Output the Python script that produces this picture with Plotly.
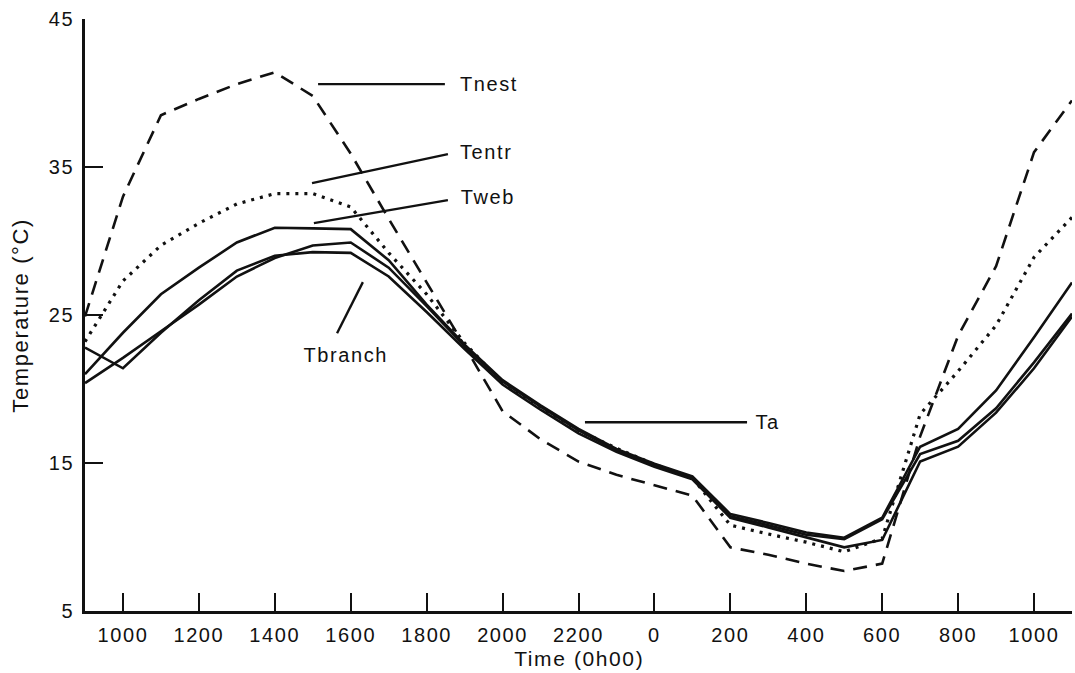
import plotly.graph_objects as go

# ---- data (hourly readings, 0900 day 1 to 1100 day 2; hour 24 = midnight) ----
hours = list(range(9, 36))

t_nest = [24.9, 33.0, 38.5, 39.6, 40.6, 41.4, 39.8, 35.9, 31.5, 27.2, 22.9, 18.5, 16.6,
          15.1, 14.2, 13.5, 12.8, 9.3, 8.8, 8.2, 7.7, 8.2, 16.8, 23.6, 28.3, 36.0, 39.5]
t_entr = [23.2, 27.3, 29.7, 31.2, 32.5, 33.2, 33.2, 32.3, 29.2, 26.4, 23.1, 20.4, 18.8,
          17.2, 16.0, 14.9, 14.0, 10.8, 10.2, 9.65, 9.0, 9.9, 18.3, 21.2, 24.3, 28.9, 31.6]
t_web = [21.0, 23.8, 26.4, 28.2, 29.9, 30.9, 30.85, 30.8, 28.7, 25.7, 23.0, 20.6, 18.9,
         17.3, 15.95, 14.95, 14.1, 11.55, 10.95, 10.3, 9.95, 11.3, 16.1, 17.3, 19.9, 23.5, 27.2]
t_a = [20.4, 22.1, 23.9, 25.7, 27.6, 28.85, 29.7, 29.9, 28.2, 25.6, 22.9, 20.5, 18.8,
       17.2, 15.85, 14.85, 14.0, 11.4, 10.8, 10.15, 9.85, 11.2, 15.6, 16.5, 18.7, 21.8, 25.1]
t_branch = [22.8, 21.4, 23.8, 26.0, 28.0, 29.0, 29.25, 29.2, 27.6, 25.2, 22.7, 20.3, 18.6,
            17.0, 15.75, 14.75, 13.9, 11.3, 10.65, 10.0, 9.3, 9.8, 15.1, 16.1, 18.4, 21.4, 24.9]

x_tickvals = [10, 12, 14, 16, 18, 20, 22, 24, 26, 28, 30, 32, 34]
x_ticktext = ["1000", "1200", "1400", "1600", "1800", "2000", "2200",
              "0", "200", "400", "600", "800", "1000"]
y_tickvals = [5, 15, 25, 35, 45]

# label text, text anchor point, leader line start / end (data units)
label_text = ["Tnest", "Tentr", "Tweb", "Tbranch", "Ta"]
label_pos = [(18.93, 40.6), (18.93, 36.0), (18.93, 32.96), (15.85, 22.28), (26.65, 17.75)]
label_anchor = ["left", "left", "left", "center", "left"]
leader_start = [(15.14, 40.6), (14.98, 33.91), (15.03, 31.21), (15.64, 23.77), (22.17, 17.75)]
leader_end = [(18.48, 40.6), (18.56, 35.87), (18.56, 32.76), (16.32, 27.22), (26.44, 17.75)]

FONT = "Liberation Sans, Arial, sans-serif"
INK = "#111111"

fig = go.Figure()

series = [
    ("Tnest", t_nest, "14px,9px"),
    ("Tentr", t_entr, "3px,6px"),
    ("Tweb", t_web, "solid"),
    ("Ta", t_a, "solid"),
    ("Tbranch", t_branch, "solid"),
]
for name, vals, dash in series:
    fig.add_trace(go.Scatter(
        x=hours, y=vals, name=name, mode="lines",
        line=dict(color=INK, width=2.6 if dash != "3px,6px" else 3.2, dash=dash),
        hoverinfo="skip",
    ))

shapes = []
for (x0, y0), (x1, y1) in zip(leader_start, leader_end):
    shapes.append(dict(type="line", xref="x", yref="y", x0=x0, y0=y0, x1=x1, y1=y1,
                       line=dict(color=INK, width=2.4)))

annotations = []
for txt, (tx, ty), anc in zip(label_text, label_pos, label_anchor):
    annotations.append(dict(x=tx, y=ty, xref="x", yref="y", text=txt, showarrow=False,
                            xanchor=anc, yanchor="middle",
                            font=dict(family=FONT, size=20, color=INK)))

annotations.append(dict(x=0.5, y=-0.081, xref="paper", yref="paper", text="Time (0h00)",
                        showarrow=False, xanchor="center", yanchor="middle",
                        font=dict(family=FONT, size=21, color=INK)))
annotations.append(dict(x=-0.066, y=0.5, xref="paper", yref="paper", text="Temperature (°C)",
                        showarrow=False, xanchor="center", yanchor="middle", textangle=-90,
                        font=dict(family=FONT, size=22, color=INK)))

fig.update_layout(
    width=1075, height=673,
    margin=dict(l=85, r=3, t=19, b=62),
    paper_bgcolor="white", plot_bgcolor="white",
    showlegend=False,
    shapes=shapes, annotations=annotations,
    font=dict(family=FONT, size=20, color=INK),
)
fig.update_xaxes(
    range=[9, 35], tickmode="array", tickvals=x_tickvals, ticktext=x_ticktext,
    ticks="inside", ticklen=18, tickwidth=2.2, tickcolor=INK,
    showline=True, linecolor=INK, linewidth=2.6, showgrid=False, zeroline=False,
    tickfont=dict(family=FONT, size=20, color=INK), ticklabelstandoff=4,
)
fig.update_yaxes(
    range=[5, 45], tickmode="array", tickvals=y_tickvals,
    ticks="inside", ticklen=18, tickwidth=2.2, tickcolor=INK,
    showline=True, linecolor=INK, linewidth=2.6, showgrid=False, zeroline=False,
    tickfont=dict(family=FONT, size=20, color=INK), ticklabelstandoff=4,
)

post = ("document.querySelectorAll('.main-svg text').forEach(function(t){"
        "t.style.letterSpacing='1.6px';});")
fig.write_html("out.html", post_script=post)
